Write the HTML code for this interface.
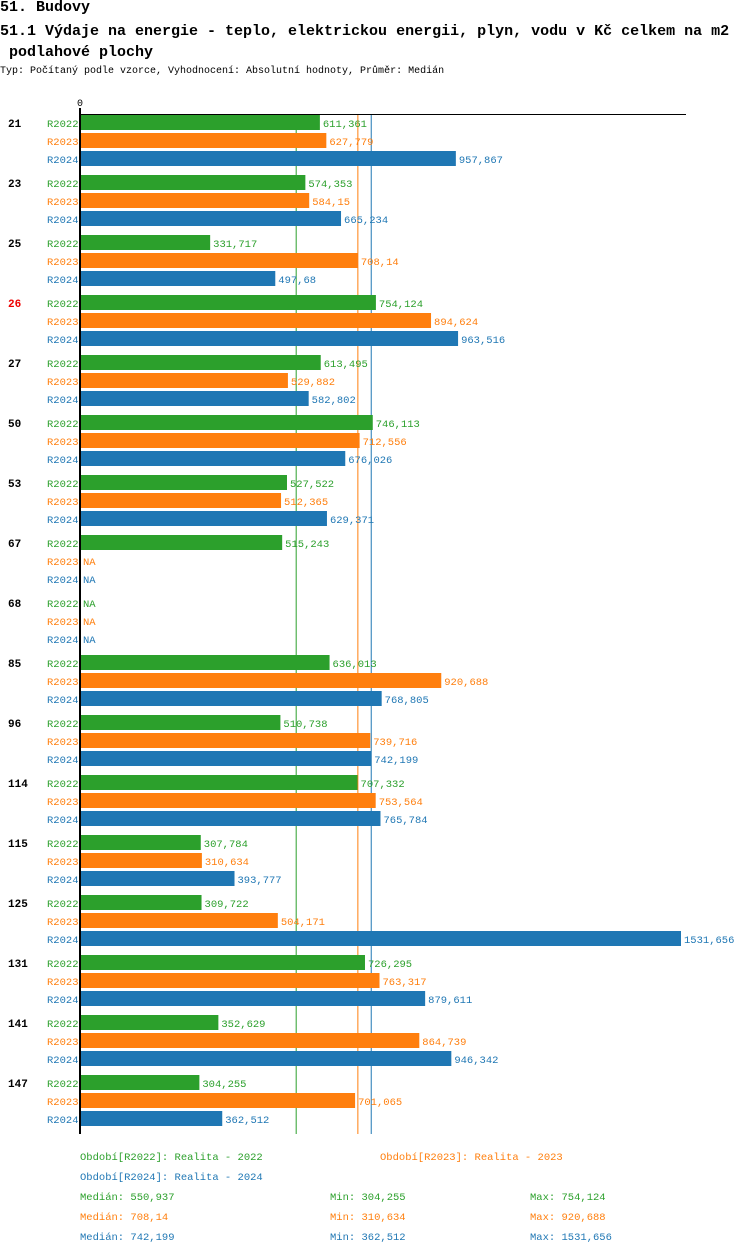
<!DOCTYPE html>
<html><head><meta charset="utf-8"><style>
body{margin:0;background:#fff;width:750px;height:1254px;overflow:hidden;font-family:"Liberation Mono",monospace;}
.t{position:absolute;white-space:nowrap;}
</style></head><body>
<div class="t" style="left:0;top:-1px;font-size:15px;font-weight:bold;">51. Budovy</div>
<div class="t" style="left:0;top:21px;font-size:15px;font-weight:bold;line-height:21px;">51.1 Výdaje na energie - teplo, elektrickou energii, plyn, vodu v Kč celkem na m2<br>&nbsp;podlahové plochy</div>
<div class="t" style="left:0;top:66px;font-size:10px;">Typ: Počítaný podle vzorce, Vyhodnocení: Absolutní hodnoty, Průměr: Medián</div>
<svg id="chart" width="750" height="1254" style="position:absolute;left:0;top:0;font-family:'Liberation Mono',monospace;font-size:11px;"></svg>
<script>
const categories=["21","23","25","26","27","50","53","67","68","85","96","114","115","125","131","141","147"];
const highlighted=["26"];
const seriesNames=["R2022","R2023","R2024"];
const r2022=[611.361,574.353,331.717,754.124,613.495,746.113,527.522,515.243,null,636.013,510.738,707.332,307.784,309.722,726.295,352.629,304.255];
const r2023=[627.779,584.15,708.14,894.624,529.882,712.556,512.365,null,null,920.688,739.716,753.564,310.634,504.171,763.317,864.739,701.065];
const r2024=[957.867,665.234,497.68,963.516,582.802,676.026,629.371,null,null,768.805,742.199,765.784,393.777,1531.656,879.611,946.342,362.512];
const medians=[550.937,708.14,742.199];
const mins=[304.255,310.634,362.512];
const maxs=[754.124,920.688,1531.656];
const colors=["#2ca02c","#ff7f0e","#1f77b4"];
const svg=document.getElementById('chart');
const NS="http://www.w3.org/2000/svg";
const x0=80,pxPer=601/1531.656,top0=114,groupH=60,barStep=18,barH=15;
const X=v=>x0+v*pxPer;
function el(t,a){const e=document.createElementNS(NS,t);for(const k in a)e.setAttribute(k,a[k]);svg.appendChild(e);return e;}
function fmt(v){return String(v).replace('.',',');}
const series=[r2022,r2023,r2024];
const bottom=top0+categories.length*groupH;
medians.forEach((m,i)=>{const l=el('line',{x1:X(m),x2:X(m),y1:top0,y2:bottom,stroke:colors[i],'stroke-width':1});

});
categories.forEach((c,gi)=>{
 const gy=top0+gi*groupH;
 const lab=el('text',{x:8,y:gy+13,'font-weight':'bold',fill:highlighted.includes(c)?'#e00':'#000'});lab.textContent=c;
 
 
 series.forEach((s,si)=>{
  const y=gy+1+si*barStep;
  const sl=el('text',{x:47,y:y+12,fill:colors[si],'font-size':'10.5px'});sl.textContent=seriesNames[si];
  
  
  const v=s[gi];
  if(v!=null){
   const r=el('rect',{x:x0,y:y,width:X(v)-x0,height:barH,fill:colors[si]});
   
   
  }
  const vt=el('text',{x:(v!=null?X(v):x0)+3,y:y+12,fill:colors[si],'font-size':'10.5px'});vt.textContent=v!=null?fmt(v):'NA';
  
  
 });
});
const ax=el('line',{x1:x0,x2:x0,y1:108,y2:bottom,stroke:'#000','stroke-width':2});


const tx=el('line',{x1:x0,x2:686,y1:top0+0.5,y2:top0+0.5,stroke:'#000','stroke-width':1});


const z=el('text',{x:77,y:106,fill:'#000','font-size':'10px'});z.textContent='0';


function lt(x,y,col,txt,name){const t=el('text',{x:x,y:y,fill:col,'font-size':'10.5px'});t.textContent=txt;

}
lt(80,1160,colors[0],'Období[R2022]: Realita - 2022','legend-entry-r2022');
lt(380,1160,colors[1],'Období[R2023]: Realita - 2023','legend-entry-r2023');
lt(80,1180,colors[2],'Období[R2024]: Realita - 2024','legend-entry-r2024');
for(let i=0;i<3;i++){const y=1200+i*20;
 lt(80,y,colors[i],'Medián: '+fmt(medians[i]),'median-stat');
 lt(330,y,colors[i],'Min: '+fmt(mins[i]),'min-stat');
 lt(530,y,colors[i],'Max: '+fmt(maxs[i]),'max-stat');}
</script>
</body></html>
